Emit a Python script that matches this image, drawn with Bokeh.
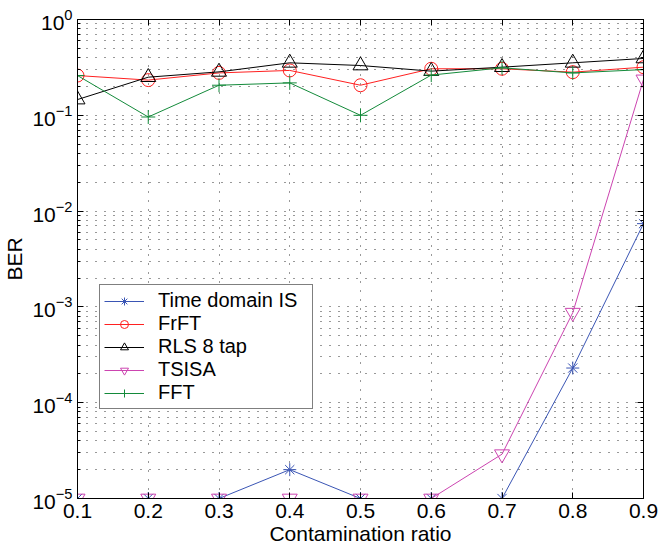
from bokeh.plotting import figure
from bokeh.models import (Legend, LegendItem, LinearAxis, LogAxis, FixedTicker,
                          LogTickFormatter, BasicTickFormatter)
from bokeh.embed import file_html
from bokeh.resources import INLINE

# ---- data ----
ratio = [0.1, 0.2, 0.3, 0.4, 0.5, 0.6, 0.7, 0.8, 0.9]
time_domain_is = [1e-5, 1e-5, 1e-5, 2e-5, 1e-5, 1e-5, 1e-5, 2.3e-4, 7.4e-3]
frft = [0.26, 0.233, 0.277, 0.294, 0.206, 0.306, 0.306, 0.282, 0.318]
rls_8tap = [0.146, 0.25, 0.284, 0.353, 0.331, 0.289, 0.318, 0.353, 0.392]
tsisa = [1e-5, 1e-5, 1e-5, 1e-5, 1e-5, 1e-5, 2.9e-5, 8.7e-4, 0.237]
fft = [0.26, 0.096, 0.206, 0.218, 0.1, 0.263, 0.313, 0.277, 0.3]
series_names = ["Time domain IS", "FrFT", "RLS 8 tap", "TSISA", "FFT"]
x_ticks = ratio
y_major = [1e-5, 1e-4, 1e-3, 1e-2, 1e-1, 1e0]
y_minor = [k * d for d in y_major[:-1] for k in range(2, 10)]

FONT = "Liberation Sans"

p = figure(width=659, height=555, y_axis_type="log",
           x_range=(0.1, 0.9), y_range=(1e-5, 1.0),
           output_backend="svg", toolbar_location=None,
           min_border_left=74, min_border_right=16,
           min_border_top=19, min_border_bottom=57)
p.background_fill_color = "white"
p.border_fill_color = "white"
p.outline_line_color = "black"
p.outline_line_width = 1

ytick = FixedTicker(ticks=y_major, minor_ticks=y_minor)
xtick = FixedTicker(ticks=x_ticks)

p.xaxis.ticker = xtick
p.yaxis.ticker = ytick
p.yaxis.formatter = LogTickFormatter()

for ax in (p.xaxis[0], p.yaxis[0]):
    ax.major_tick_in = 6
    ax.major_tick_out = 0
    ax.minor_tick_in = 3
    ax.minor_tick_out = 0
    ax.axis_line_color = "black"
    ax.major_label_text_font = FONT
    ax.major_label_text_font_size = "21px"
    ax.major_label_text_color = "black"
    ax.axis_label_text_font = FONT
    ax.axis_label_text_font_size = "21px"
    ax.axis_label_text_font_style = "normal"
    ax.axis_label_text_color = "black"

p.xaxis.axis_label = "Contamination ratio"
p.yaxis.axis_label = "BER"
p.xaxis.major_label_standoff = 5
p.xaxis.axis_label_standoff = 1
p.yaxis.major_label_standoff = 5
p.yaxis.axis_label_standoff = 3

top = LinearAxis(ticker=xtick, formatter=BasicTickFormatter(),
                 major_tick_in=6, major_tick_out=0,
                 minor_tick_in=0, minor_tick_out=0, major_label_standoff=0,
                 major_label_text_font_size="1px", major_label_text_color=None,
                 axis_line_color="black")
right = LogAxis(ticker=ytick, formatter=BasicTickFormatter(),
                major_tick_in=6, major_tick_out=0,
                minor_tick_in=3, minor_tick_out=0, major_label_standoff=0,
                major_label_text_font_size="1px", major_label_text_color=None,
                axis_line_color="black")
p.add_layout(top, "above")
p.add_layout(right, "right")

p.xgrid.ticker = xtick
p.ygrid.ticker = ytick
for g in (p.xgrid[0], p.ygrid[0]):
    g.grid_line_color = "#333333"
    g.grid_line_dash = "1 8"
    g.grid_line_width = 1
p.ygrid.minor_grid_line_color = "#333333"
p.ygrid.minor_grid_line_dash = "1 8"

colors = ["#3a55b4", "#ff2020", "#000000", "#cc44b0", "#138a3a"]
markers = ["asterisk", "circle", "triangle", "inverted_triangle", "cross"]
sizes = [13, 13, 15, 15, 14]
data = [time_domain_is, frft, rls_8tap, tsisa, fft]

items = []
for name, ys, c, m, s in zip(series_names, data, colors, markers, sizes):
    l = p.line(ratio, ys, line_color=c, line_width=1)
    sc = p.scatter(ratio, ys, marker=m, size=s, line_color=c,
                   fill_color=None, line_width=1)
    items.append(LegendItem(label=name, renderers=[l, sc]))

legend = Legend(items=items, location=(22, 89))
legend.label_text_font = FONT
legend.label_text_font_size = "20px"
legend.label_text_color = "black"
legend.border_line_color = "black"
legend.border_line_width = 1
legend.background_fill_color = "white"
legend.background_fill_alpha = 1
legend.glyph_width = 40
legend.glyph_height = 20
legend.label_height = 20
legend.label_width = 150
legend.label_standoff = 14
legend.padding = 4
legend.spacing = 0
legend.margin = 0
p.add_layout(legend, "center")

open("out.html", "w").write(file_html(p, INLINE))
